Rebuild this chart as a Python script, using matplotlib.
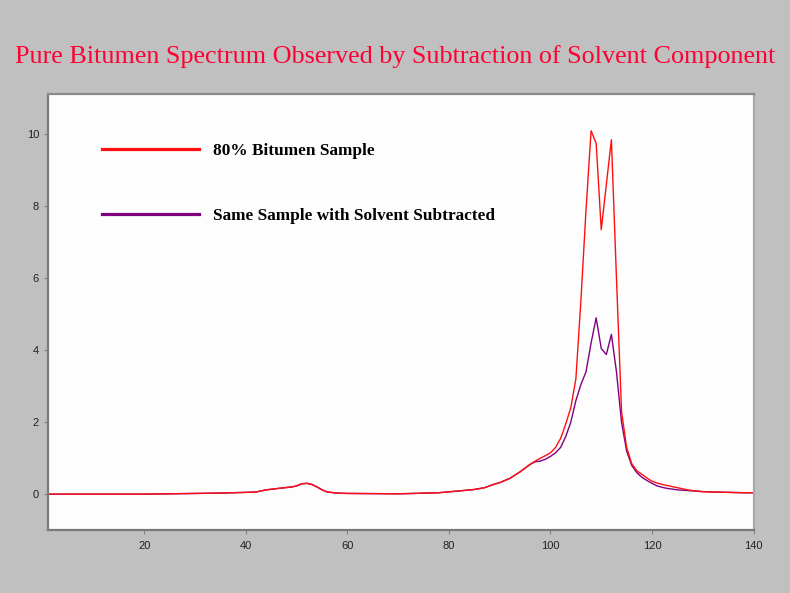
import matplotlib
matplotlib.use("Agg")
import matplotlib.pyplot as plt

# spectrum
x = [1, 10, 20, 25, 30, 35, 40, 42, 44, 47, 49, 50, 51, 52, 53, 54, 55, 56, 58, 60,
     70, 73, 78, 82, 85, 87, 89, 90, 92, 94, 96, 97, 98, 99, 100, 101, 102, 103, 104,
     105, 106, 107, 108, 109, 110, 111, 112, 113, 114, 115, 116, 117, 118, 119, 120,
     121, 122, 123, 124, 125, 126, 127, 128, 130, 132, 135, 138, 140]

bitumen = [0, 0, 0, 0.01, 0.02, 0.03, 0.05, 0.06, 0.12, 0.17, 0.2, 0.23, 0.29, 0.3,
           0.27, 0.2, 0.12, 0.06, 0.03, 0.02, 0.01, 0.02, 0.04, 0.09, 0.13, 0.18, 0.28,
           0.32, 0.44, 0.62, 0.83, 0.92, 1.0, 1.07, 1.15, 1.3, 1.55, 1.95, 2.4, 3.2, 5.4,
           7.9, 10.1, 9.75, 7.35, 8.6, 9.85, 6.0, 2.3, 1.3, 0.85, 0.65, 0.55, 0.45, 0.36,
           0.31, 0.27, 0.24, 0.21, 0.18, 0.15, 0.12, 0.1, 0.07, 0.06, 0.05, 0.04, 0.04]

subtracted = [0, 0, 0, 0.01, 0.02, 0.03, 0.05, 0.06, 0.12, 0.17, 0.2, 0.23, 0.29, 0.3,
              0.27, 0.2, 0.12, 0.06, 0.03, 0.02, 0.01, 0.02, 0.04, 0.09, 0.13, 0.18, 0.28,
              0.32, 0.44, 0.62, 0.83, 0.9, 0.92, 0.97, 1.05, 1.15, 1.3, 1.6, 2.0, 2.6, 3.05,
              3.4, 4.2, 4.9, 4.05, 3.88, 4.44, 3.4, 2.0, 1.2, 0.8, 0.6, 0.47, 0.38, 0.3,
              0.23, 0.19, 0.16, 0.14, 0.12, 0.11, 0.1, 0.09, 0.07, 0.06, 0.05, 0.04, 0.04]

labels = ["80% Bitumen Sample", "Same Sample with Solvent Subtracted"]
title = "Pure Bitumen Spectrum Observed by Subtraction of Solvent Component"

fig = plt.figure(figsize=(7.9, 5.93), dpi=100, facecolor="#c0c0c0")
ax = fig.add_axes([0.0608, 0.106, 0.893, 0.736], facecolor="#fcfdfc")

ax.plot(x, subtracted, color="#800080", lw=1.0, label=labels[1])
ax.plot(x, bitumen, color="#ff1010", lw=1.0, label=labels[0])

ax.set_xlim(1, 140)
ax.set_ylim(-1, 11.13)
ax.set_xticks(range(20, 141, 20))
ax.set_yticks(range(0, 11, 2))
ax.tick_params(length=3, width=0.8, color="#808080", labelsize=8, labelcolor="#222222")
ax.tick_params(axis="x", pad=5)
for t in ax.get_xticklabels() + ax.get_yticklabels():
    t.set_family("Liberation Sans")

ax.spines["left"].set_color("#7a7a7a")
ax.spines["bottom"].set_color("#7a7a7a")
ax.spines["top"].set_color("#8a8a8a")
ax.spines["right"].set_color("#a8a8a8")
for s in ax.spines.values():
    s.set_linewidth(1.6)

h, l = ax.get_legend_handles_labels()
leg = ax.legend(h[::-1], l[::-1], loc="upper left", bbox_to_anchor=(0.055, 0.922),
                frameon=False, handlelength=5.6, handletextpad=0.8, labelspacing=2.8,
                prop={"family": "Liberation Serif", "weight": "bold", "size": 12.4})
for line in leg.get_lines():
    line.set_linewidth(2.3)

fig.text(0.5, 0.905, title, ha="center", va="center", color="#ff0033",
         family="Liberation Serif", fontsize=18.8)

fig.savefig("out.png", dpi=100, facecolor=fig.get_facecolor())
